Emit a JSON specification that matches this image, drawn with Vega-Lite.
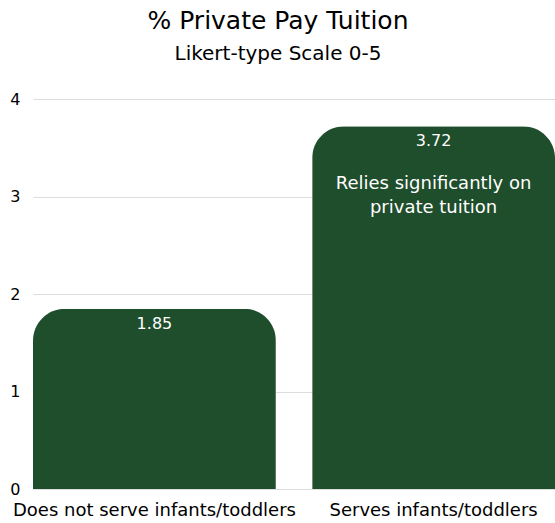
{
  "$schema": "https://vega.github.io/schema/vega-lite/v6.json",
  "width": 522,
  "height": 390,
  "autosize": {"type": "none"},
  "padding": {"left": 33, "top": 99, "right": 0, "bottom": 34},
  "config": {
    "font": "DejaVu Sans",
    "view": {"stroke": null},
    "axis": {"labelFont": "DejaVu Sans", "labelColor": "#000000"}
  },
  "title": {
    "text": "% Private Pay Tuition",
    "subtitle": "Likert-type Scale 0-5",
    "anchor": "middle",
    "frame": "group",
    "dx": -16,
    "fontSize": 25,
    "fontWeight": "normal",
    "color": "#000000",
    "subtitleFontSize": 20,
    "subtitleColor": "#000000",
    "subtitlePadding": 10,
    "offset": 27
  },
  "data": {
    "values": [
      {"group": "Does not serve infants/toddlers", "value": 1.85, "label": "1.85", "note": ""},
      {"group": "Serves infants/toddlers", "value": 3.72, "label": "3.72", "note": ["Relies significantly on", "private tuition"]}
    ]
  },
  "encoding": {
    "x": {
      "field": "group",
      "type": "nominal",
      "sort": null,
      "scale": {"paddingInner": 0.13, "paddingOuter": 0},
      "axis": {"title": null, "labelAngle": 0, "labelFontSize": 18, "labelLimit": 0, "ticks": false, "domain": false, "labelPadding": 12}
    },
    "y": {
      "field": "value",
      "type": "quantitative",
      "scale": {"domain": [0, 4]},
      "axis": {"title": null, "values": [0, 1, 2, 3, 4], "ticks": false, "domain": false, "labelFontSize": 16, "labelPadding": 13, "gridColor": "#dddddd", "labelAlign": "right"}
    }
  },
  "layer": [
    {
      "mark": {"type": "bar", "color": "#1f4e2c", "cornerRadiusTopLeft": 32, "cornerRadiusTopRight": 32}
    },
    {
      "mark": {"type": "text", "color": "#ffffff", "baseline": "top", "dy": 7, "fontSize": 16},
      "encoding": {"text": {"field": "label"}}
    },
    {
      "mark": {"type": "text", "color": "#ffffff", "baseline": "top", "dy": 49, "fontSize": 18, "lineHeight": 24},
      "encoding": {"text": {"field": "note"}}
    }
  ]
}
